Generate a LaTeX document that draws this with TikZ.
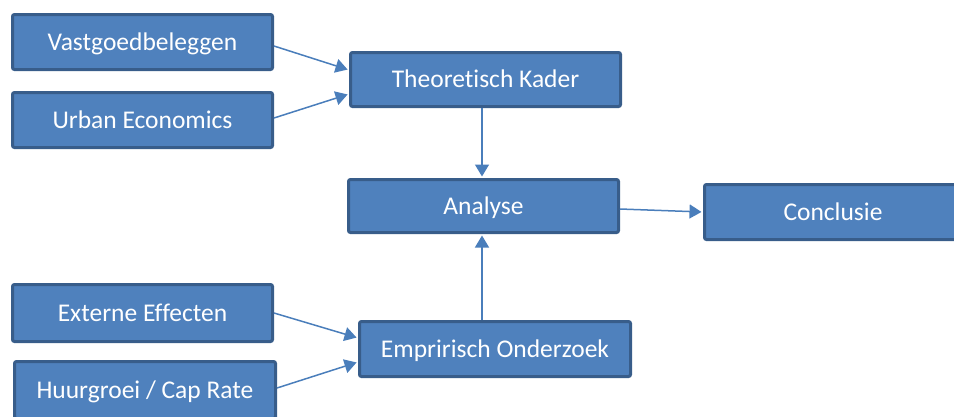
\documentclass[tikz,border=0pt]{standalone}
\usepackage{fontspec}
\setmainfont{Carlito}[Ligatures=NoCommon]
\usetikzlibrary{arrows.meta}
\definecolor{blokvul}{RGB}{79,129,189}
\definecolor{blokrand}{RGB}{56,93,138}
\definecolor{pijlkleur}{RGB}{74,126,187}
\tikzset{
  >={Triangle[length=12pt,width=14pt]},
  blok/.style={
    rectangle,
    rounded corners=2pt,
    fill=blokvul,
    draw=blokrand, line width=3pt,
    text=white,
    inner sep=0pt,
    font=\fontsize{25.5}{30}\selectfont,
    text height=20pt, text depth=4pt,
    minimum width=260pt,
    minimum height=55pt,
    text centered},
  pijl/.style={draw=pijlkleur, line width=1.5pt, ->, shorten >=1.5pt},
}
\begin{document}
\begin{tikzpicture}[x=1pt,y=-1pt]
  \path[use as bounding box, clip] (0,0) rectangle (954,416);
  % linker kolom
  \node[blok] (vastgoed) at (142.5,42) {Vastgoedbeleggen};
  \node[blok] (urban) at (142.5,120) {Urban Economics};
  \node[blok, minimum height=57pt] (externe) at (142.5,313) {Externe Effecten};
  \node[blok, minimum width=261pt, minimum height=57pt] (huurgroei) at (145,390) {Huurgroei / Cap Rate};
  % midden
  \node[blok, minimum width=270pt, minimum height=54pt] (kader) at (485.5,79.5) {Theoretisch Kader};
  \node[blok, minimum width=270pt, minimum height=53pt] (analyse) at (483.5,206) {Analyse};
  \node[blok, minimum width=271pt] (onderzoek) at (495,349) {Empririsch Onderzoek};
  % rechts
  \node[blok, minimum width=257pt] (conclusie) at (833,212) {Conclusie};

  \draw[pijl] ([yshift=-4pt]vastgoed.east) -- ([yshift=9.5pt]kader.west);
  \draw[pijl] ([yshift=2pt]urban.east) -- ([yshift=-14.5pt]kader.west);
  \draw[pijl] ([xshift=-3.5pt]kader.south) -- ([xshift=-1.5pt]analyse.north);
  \draw[pijl] ([yshift=-3pt]analyse.east) -- (conclusie.west);
  \draw[pijl] ([xshift=-13pt]onderzoek.north) -- ([xshift=-1.5pt]analyse.south);
  \draw[pijl] (externe.east) -- ([yshift=11pt]onderzoek.west);
  \draw[pijl] ([yshift=2pt]huurgroei.east) -- ([yshift=-13pt]onderzoek.west);
\end{tikzpicture}
\end{document}
